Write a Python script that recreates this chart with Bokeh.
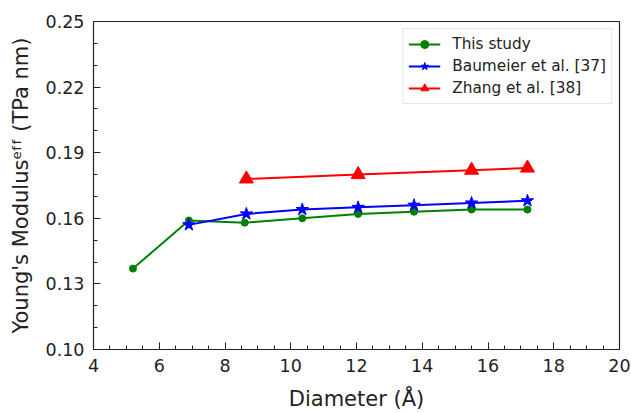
from bokeh.plotting import figure
from bokeh.models import FixedTicker, PrintfTickFormatter, Range1d
from bokeh.embed import file_html
from bokeh.resources import INLINE

# Effective Young's modulus vs. nanotube diameter
this_x = [5.2, 6.9, 8.6, 10.35, 12.05, 13.75, 15.5, 17.2]
this_y = [0.137, 0.159, 0.158, 0.160, 0.162, 0.163, 0.164, 0.164]

baum_x = [6.9, 8.65, 10.35, 12.05, 13.75, 15.5, 17.2]
baum_y = [0.157, 0.162, 0.164, 0.165, 0.166, 0.167, 0.168]

zhang_x = [8.65, 12.05, 15.5, 17.2]
zhang_y = [0.178, 0.180, 0.182, 0.183]

x_ticks = [4, 6, 8, 10, 12, 14, 16, 18, 20]
x_minor = [v / 2 for v in range(8, 41) if v % 4 != 0]
y_ticks = [0.10, 0.13, 0.16, 0.19, 0.22, 0.25]
y_minor = [round(0.10 + 0.01 * i, 2) for i in range(16) if i % 3 != 0]

x_title = "Diameter (Å)"
y_title = "Young's Modulus\u1d49\u1da0\u1da0 (TPa nm)"

FONT = "DejaVu Sans"
INK = "#222222"

p = figure(width=631, height=413, output_backend="svg", toolbar_location=None,
           x_range=Range1d(4, 20), y_range=Range1d(0.10, 0.25),
           min_border_left=93, min_border_right=12, min_border_top=21, min_border_bottom=63)
p.grid.visible = False
p.background_fill_color = "white"
p.border_fill_color = "white"
p.outline_line_color = INK
p.outline_line_width = 1.2

p.xaxis.axis_label = x_title
p.yaxis.axis_label = y_title

for ax, ticks, minor, fmt in ((p.xaxis[0], x_ticks, x_minor, "%d"),
                              (p.yaxis[0], y_ticks, y_minor, "%.2f")):
    ax.ticker = FixedTicker(ticks=ticks, minor_ticks=minor)
    ax.formatter = PrintfTickFormatter(format=fmt)
    ax.major_tick_in = 7
    ax.major_tick_out = 0
    ax.minor_tick_in = 4
    ax.minor_tick_out = 0
    ax.axis_line_color = INK
    ax.major_tick_line_color = INK
    ax.minor_tick_line_color = INK
    ax.major_label_text_font = FONT
    ax.major_label_text_font_size = "17.5px"
    ax.major_label_text_color = INK
    ax.major_label_standoff = 9
    ax.axis_label_text_font = FONT
    ax.axis_label_text_font_size = "21px"
    ax.axis_label_text_font_style = "normal"
    ax.axis_label_text_color = INK

p.xaxis.axis_label_standoff = 12
p.yaxis.axis_label_standoff = 10

# series
p.line(this_x, this_y, color="#008000", line_width=2, legend_label="This study")
p.scatter(this_x, this_y, marker="circle", size=7, color="#008000", legend_label="This study")
p.line(baum_x, baum_y, color="#0000ff", line_width=2, legend_label="Baumeier et al. [37]")
p.scatter(baum_x, baum_y, marker="star", size=13, color="#0000ff", legend_label="Baumeier et al. [37]")
p.line(zhang_x, zhang_y, color="#ff0000", line_width=2, legend_label="Zhang et al. [38]")
p.scatter(zhang_x, zhang_y, marker="triangle", size=14, color="#ff0000", legend_label="Zhang et al. [38]")

lg = p.legend[0]
lg.location = "top_right"
lg.margin = 7
lg.padding = 5
lg.spacing = 2
lg.glyph_width = 32
lg.glyph_height = 20
lg.label_height = 20
lg.label_standoff = 12
lg.label_text_font = FONT
lg.label_text_font_size = "15.3px"
lg.label_text_color = INK
lg.border_line_color = "#cccccc"
lg.border_line_width = 1.2
lg.background_fill_alpha = 0.9

open("out.html", "w").write(file_html(p, INLINE))
